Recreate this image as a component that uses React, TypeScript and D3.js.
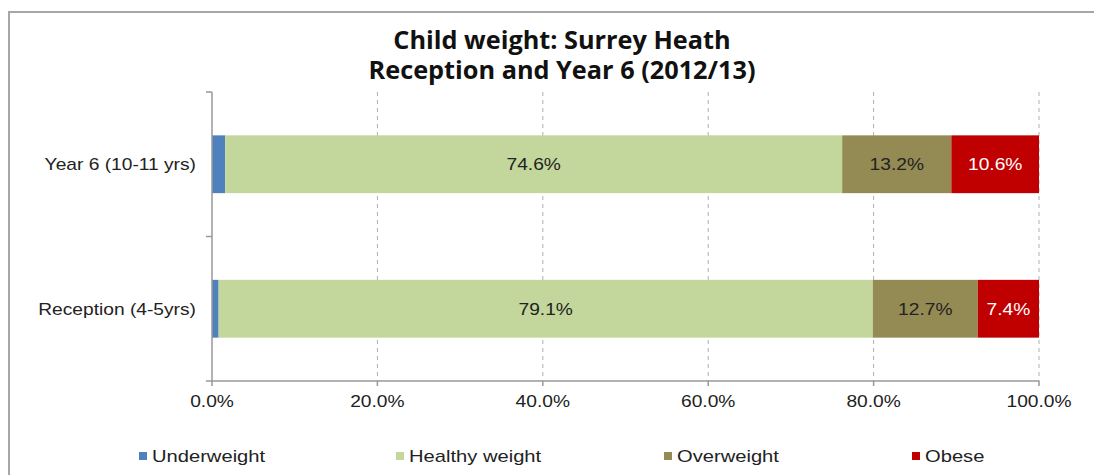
import React from "react";
import * as d3 from "d3";

const categories = ["Year 6 (10-11 yrs)", "Reception (4-5yrs)"];
const seriesNames = ["Underweight", "Healthy weight", "Overweight", "Obese"];
const underweight = [1.6, 0.8];
const healthy = [74.6, 79.1];
const overweight = [13.2, 12.7];
const obese = [10.6, 7.4];
const xTicks = [0, 20, 40, 60, 80, 100];
const colors = ["#4F81BD", "#C3D69B", "#948A54", "#C00000"];
const labelColors = ["#222", "#222", "#222", "#ffffff"];
const showLabel = [false, true, true, true];

const W = 1094;
const H = 475;
const SX = 1.2;

export default function App() {
  const x = d3.scaleLinear().domain([0, 100]).range([212, 1039]);
  const y = d3.scaleBand().domain(categories).range([92, 381]).paddingInner(0.6).paddingOuter(0.3);
  const bandEdges = d3.scaleLinear().domain([0, categories.length]).range([92, 381]);
  const series = [underweight, healthy, overweight, obese];
  const stacked = categories.map((c, i) => {
    let acc = 0;
    return series.map((s, k) => {
      const x0 = acc;
      acc += s[i];
      return { k, x0, x1: acc, v: s[i] };
    });
  });
  const font = "'Liberation Sans', Arial, sans-serif";
  const legendX = [139, 396, 664, 912];

  return (
    <svg width={W} height={H} style={{ position: "absolute", left: 0, top: 0, background: "#fff" }}>
      <path d={`M9,${H + 2} L9,12 L${W + 2},12`} fill="none" stroke="#a6a6a6" strokeWidth={2} />
      <g fontFamily="'Open Sans', sans-serif" fontWeight={700} fontSize={23} fill="#111" textAnchor="middle">
        <text transform={`translate(562,49) scale(1.1,1.05)`}>Child weight: Surrey Heath</text>
        <text transform={`translate(562,79) scale(1.1,1.05)`}>Reception and Year 6 (2012/13)</text>
      </g>
      {xTicks.slice(1).map((t) => (
        <line key={t} x1={x(t)} x2={x(t)} y1={92} y2={381} stroke="#b0b0b0" strokeDasharray="4,4" strokeWidth={1} />
      ))}
      {stacked.map((segs, i) =>
        segs.map((s) => (
          <rect key={`${i}-${s.k}`} x={x(s.x0)} y={y(categories[i])!} width={x(s.x1) - x(s.x0)} height={y.bandwidth()} fill={colors[s.k]} />
        ))
      )}
      {stacked.map((segs, i) =>
        segs.filter((s) => showLabel[s.k]).map((s) => (
          <text key={`l${i}-${s.k}`} transform={`translate(${(x(s.x0) + x(s.x1)) / 2},${y(categories[i])! + y.bandwidth() / 2 + 6}) scale(${SX},1)`}
            textAnchor="middle" fontFamily={font} fontSize={16} fill={labelColors[s.k]}>
            {s.v.toFixed(1)}%
          </text>
        ))
      )}
      <line x1={212} x2={212} y1={92} y2={381} stroke="#999" strokeWidth={1.5} />
      <line x1={212} x2={1039} y1={381} y2={381} stroke="#999" strokeWidth={1.5} />
      {d3.range(categories.length + 1).map((i) => (
        <line key={`yt${i}`} x1={206} x2={212} y1={bandEdges(i)} y2={bandEdges(i)} stroke="#999" strokeWidth={1.5} />
      ))}
      {xTicks.map((t) => (
        <g key={`xt${t}`}>
          <line x1={x(t)} x2={x(t)} y1={381} y2={386} stroke="#999" strokeWidth={1.5} />
          <text transform={`translate(${x(t)},407) scale(${SX},1)`} textAnchor="middle" fontFamily={font} fontSize={16} fill="#222">
            {t.toFixed(1)}%
          </text>
        </g>
      ))}
      {categories.map((c) => (
        <text key={c} transform={`translate(196,${y(c)! + y.bandwidth() / 2 + 6}) scale(${SX},1)`} textAnchor="end" fontFamily={font} fontSize={16} fill="#222">
          {c}
        </text>
      ))}
      {seriesNames.map((n, k) => (
        <g key={n}>
          <rect x={legendX[k]} y={452} width={8} height={8} fill={colors[k]} />
          <text transform={`translate(${legendX[k] + 13},462) scale(1.26,1)`} fontFamily={font} fontSize={16} fill="#222">
            {n}
          </text>
        </g>
      ))}
    </svg>
  );
}
